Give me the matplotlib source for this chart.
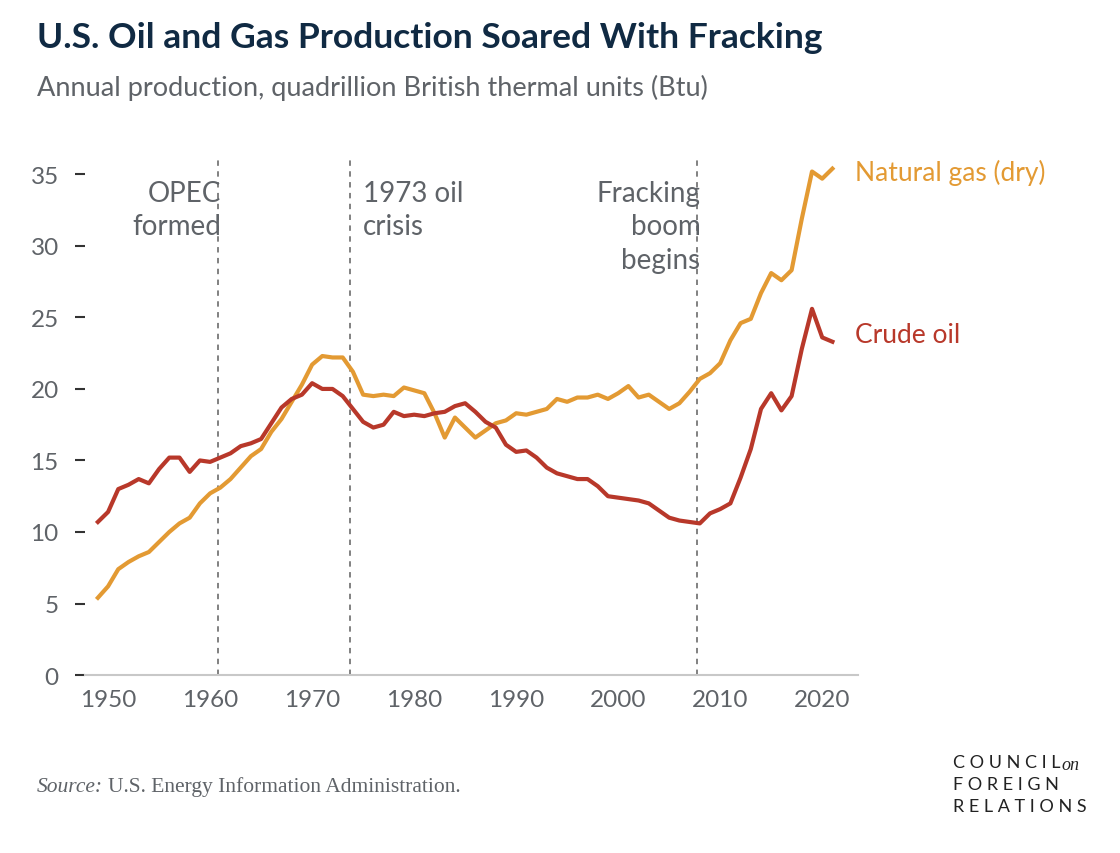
import matplotlib

matplotlib.use("Agg")

import matplotlib.pyplot as plt
import numpy as np

years = np.arange(1949, 2022)
gas = [5.4, 6.2, 7.4, 7.9, 8.3, 8.6, 9.3, 10.0, 10.6, 11.0, 12.0, 12.7, 13.1, 13.7, 14.5,
       15.3, 15.8, 17.0, 17.9, 19.1, 20.3, 21.7, 22.3, 22.2, 22.2, 21.2, 19.6, 19.5, 19.6,
       19.5, 20.1, 19.9, 19.7, 18.3, 16.6, 18.0, 17.3, 16.6, 17.1, 17.6, 17.8, 18.3, 18.2,
       18.4, 18.6, 19.3, 19.1, 19.4, 19.4, 19.6, 19.3, 19.7, 20.2, 19.4, 19.6, 19.1, 18.6,
       19.0, 19.8, 20.7, 21.1, 21.8, 23.4, 24.6, 24.9, 26.7, 28.1, 27.6, 28.3, 31.9, 35.2,
       34.7, 35.4]
oil = [10.7, 11.4, 13.0, 13.3, 13.7, 13.4, 14.4, 15.2, 15.2, 14.2, 15.0, 14.9, 15.2, 15.5,
       16.0, 16.2, 16.5, 17.6, 18.7, 19.3, 19.6, 20.4, 20.0, 20.0, 19.5, 18.6, 17.7, 17.3,
       17.5, 18.4, 18.1, 18.2, 18.1, 18.3, 18.4, 18.8, 19.0, 18.4, 17.7, 17.3, 16.1, 15.6,
       15.7, 15.2, 14.5, 14.1, 13.9, 13.7, 13.7, 13.2, 12.5, 12.4, 12.3, 12.2, 12.0, 11.5,
       11.0, 10.8, 10.7, 10.6, 11.3, 11.6, 12.0, 13.8, 15.8, 18.6, 19.7, 18.5, 19.5, 22.8,
       25.6, 23.6, 23.3]
events = [1960, 1973, 2007]
event_labels = ["OPEC\nformed", "1973 oil\ncrisis", "Fracking\nboom\nbegins"]

GAS_COLOR = "#e39a33"
OIL_COLOR = "#b8382a"
GREY = "#5f6368"

plt.rcParams["font.family"] = ["Lato", "DejaVu Sans"]

fig = plt.figure(figsize=(11.2, 8.54), dpi=100)
ax = fig.add_axes([0.076, 0.2084, 0.69, 0.603])

ax.plot(years, gas, color=GAS_COLOR, lw=3)
ax.plot(years, oil, color=OIL_COLOR, lw=3)

for yr, label, ha in zip(events, event_labels, ["right", "left", "right"]):
    xv = yr + 0.75  # the dashed markers sit a touch right of the year in the original
    ax.axvline(xv, color="#777777", ls=(0, (3, 3)), lw=1.3, zorder=0)
    ax.text(xv + (1.2 if ha == "left" else 0.3), 34.6, label, ha=ha, va="top",
            fontsize=20, color=GREY, linespacing=1.35)

ax.text(2023.2, 35.2, "Natural gas (dry)", color=GAS_COLOR, fontsize=19, va="center",
        clip_on=False)
ax.text(2023.2, 23.8, "Crude oil", color=OIL_COLOR, fontsize=19, va="center", clip_on=False)

ax.set_xlim(1947.75, 2023.5)
ax.set_ylim(0, 36)
ax.set_yticks(range(0, 36, 5))
ax.set_xticks(range(1950, 2021, 10))
for s in ["top", "right", "left"]:
    ax.spines[s].set_visible(False)
ax.spines["bottom"].set_color("#c8c8c8")
ax.spines["bottom"].set_linewidth(1.5)
ax.tick_params(axis="x", length=0, pad=10, labelsize=17.5, labelcolor=GREY)
ax.tick_params(axis="y", length=7, width=1.5, color="#333333", pad=12, labelsize=17.5,
               labelcolor=GREY)

fig.text(0.033, 0.955, "U.S. Oil and Gas Production Soared With Fracking", fontsize=25.5,
         fontweight="bold", color="#102a43", va="center")
fig.text(0.033, 0.897, "Annual production, quadrillion British thermal units (Btu)",
         fontsize=19.5, color=GREY, va="center")
fig.text(0.033, 0.078, "Source:", fontsize=15.5, fontstyle="italic", color=GREY,
         family="Liberation Serif", va="center")
fig.text(0.096, 0.078, "U.S. Energy Information Administration.", fontsize=15.5, color=GREY,
         family="Liberation Serif", va="center")
logo = dict(fontsize=13, color="#222222", va="center", family="Lato")
fig.text(0.851, 0.107, "C O U N C I L", **logo)
fig.text(0.948, 0.104, "on", fontsize=13, fontstyle="italic", color="#222222",
         family="Liberation Serif", va="center")
fig.text(0.851, 0.081, "F O R E I G N", **logo)
fig.text(0.851, 0.055, "R E L A T I O N S", **logo)

fig.savefig("out.png", dpi=100)
